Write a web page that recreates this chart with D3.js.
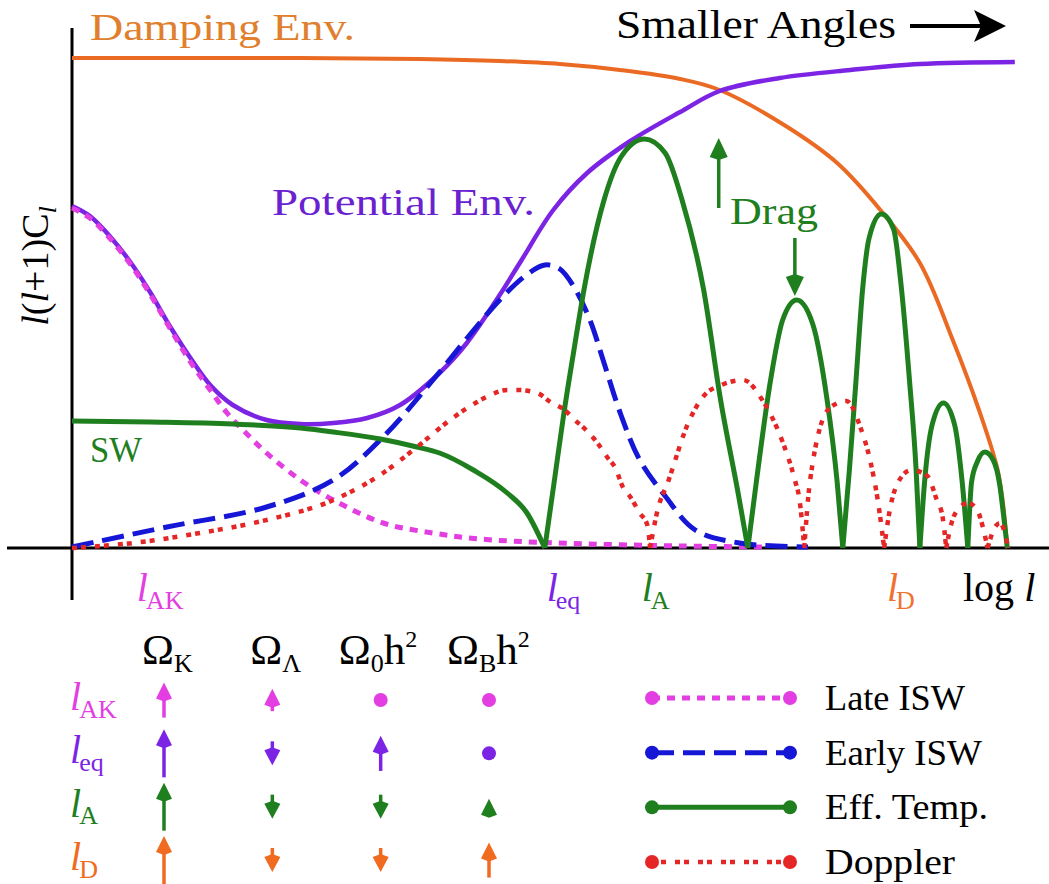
<!DOCTYPE html>
<html>

<head>
    <meta charset="utf-8">
    <script src="https://cdn.jsdelivr.net/npm/d3@7"></script>
    <style>
        body { margin: 0; background: #fff; }
        svg text { font-family: "Liberation Serif", "DejaVu Serif", serif; }
    </style>
</head>

<body>
    <svg class="MainSvg"></svg>
</body>
<script>
    // curves, x = log l (0..100), y = l(l+1)C_l (0..100)
    var dampingEnv = [[0, 98], [24.3, 98], [37.0, 97.8], [45.5, 97.4], [51.9, 96.8], [58.3, 95.6], [64.7, 93.8],
        [68.9, 91.6], [76.1, 84.2], [81.4, 77], [86.0, 67.6], [90.2, 57], [93.7, 41.6], [96.6, 27],
        [98.4, 16.2], [99.0, 9.6], [99.5, 0]];
    var potentialEnv = [[0, 68.4], [1.9, 66.4], [4.0, 62.4], [6.2, 57.2], [8.3, 51.2], [10.4, 44.4], [12.6, 38],
        [14.7, 32.6], [17.1, 28.6], [20.7, 25.6], [24.3, 24.8], [27.8, 25], [31.4, 26], [34.9, 28.6],
        [39.1, 35], [42.0, 41], [45.5, 50.6], [47.7, 57.2], [51.2, 67.6], [54.8, 75], [59.4, 81.4],
        [64.7, 87.2], [68.9, 91.4], [75.3, 94], [82.8, 95.6], [90.2, 96.8], [100.3, 97.2]];
    var lateISW = [[0, 68], [1.9, 66], [4.0, 62], [6.2, 56.8], [8.3, 50.8], [10.4, 44], [12.6, 37.2],
        [14.7, 31.6], [16.5, 27], [18.4, 23.2], [20.7, 19], [24.3, 13.6], [27.8, 9.6], [33.1, 5],
        [38.4, 3], [43.4, 1.8], [51.6, 1], [64.7, 0.4], [73.9, 0.2]];
    var earlyISW = [[0, 0.2], [10.1, 4.2], [20.7, 8.2], [27.8, 13.6], [33.1, 22.2], [38.4, 33.6], [42.3, 42.6],
        [45.5, 49.6], [48.2, 54.4], [50.3, 56.6], [51.9, 55.8], [53.4, 52.2], [55.1, 45.6], [56.5, 37.6],
        [58.4, 26.6], [60.4, 17.6], [63.1, 10.4], [66.3, 3.6], [71.0, 1], [78.3, 0.2]];
    var effTemp = [[0, 25.4], [8.3, 25.2], [17.1, 24.8], [24.3, 24], [27.8, 23.2], [32.8, 21.8], [36.7, 20.2],
        [39.1, 19], [42.7, 15.6], [46.3, 11], [48.4, 7], [50.3, 0],
        [51.4, 14.6], [52.3, 26.6], [53.4, 39.6], [54.5, 52], [56.6, 69.6], [58.4, 78.2], [60.9, 81.8],
        [63.1, 79], [64.9, 69.6], [67.2, 51.6], [69.0, 29.6], [70.9, 10.6], [71.9, 0],
        [72.8, 13.2], [74.3, 33.4], [75.6, 45.6], [77.1, 49.6], [78.8, 44.8], [80.3, 30], [81.4, 13.2], [82.0, 0],
        [82.7, 15.6], [83.4, 33.4], [84.1, 51.6], [84.8, 62], [86.1, 66.8], [87.4, 63.8], [88.2, 52.6],
        [89.1, 33.4], [89.8, 15.6], [90.2, 0],
        [90.7, 13.2], [91.5, 24.6], [92.7, 29], [93.9, 24.6], [94.7, 13.2], [95.3, 0],
        [95.7, 13.2], [96.3, 17.2], [97.1, 19.2], [98.0, 17.6], [98.7, 12.6], [99.1, 6.6], [99.5, 0]];
    var doppler = [[0, 0], [6.5, 1], [13.6, 3], [20.7, 5.6], [27.8, 9.6], [33.1, 15], [36.7, 20.2], [40.5, 26],
        [43.1, 29.2], [44.5, 30.6], [46.3, 31.6], [47.4, 31.6], [49.5, 31], [50.9, 29.2], [52.4, 27.6],
        [53.5, 25.6], [54.9, 23.2], [55.9, 21], [57.0, 18], [57.8, 16], [58.6, 12.2], [59.4, 10.2],
        [60.4, 7], [61.2, 4.6], [61.5, 0],
        [62.3, 7.6], [63.4, 13.2], [65.6, 25.2], [67.3, 30.6], [69.1, 32.6], [71.4, 33.6], [73.5, 29.4],
        [75.6, 21.2], [76.9, 13.6], [77.4, 9.6], [77.9, 0],
        [78.5, 13.2], [80.6, 28], [82.4, 29.4], [83.9, 24], [84.9, 17.6], [85.7, 9.8], [86.4, 0],
        [87.0, 7.6], [87.9, 13.2], [89.3, 15.6], [91.0, 14.4], [92.0, 9.6], [92.6, 6.4], [93.0, 0],
        [93.6, 5.2], [94.5, 8.2], [95.3, 9], [96.3, 7.6], [96.9, 4.2], [97.4, 0],
        [98.2, 4.2], [98.7, 5], [99.3, 2.6], [99.6, 0]];

    // scale markers on the log l axis
    var scaleMarks = [
        { sub: "AK", at: 6.9, key: "late" },
        { sub: "eq", at: 50.5, key: "pot" },
        { sub: "A", at: 60.6, key: "eff" },
        { sub: "D", at: 86.7, key: "damp" }
    ];

    // parameter dependence table: +up / -down / 0 no change (magnitude = arrow size)
    var tableRows = ["AK", "eq", "A", "D"];
    var tableCols = ["K", "Λ", "0", "B"];
    var tableEffects = [
        [2, 1, 0, 0],
        [3, -1, 2, 0],
        [3, -1, -1, 0.5],
        [3, -1, -1, 2]
    ];

    var legendNames = ["Late ISW", "Early ISW", "Eff. Temp.", "Doppler"];

    var colors = {
        damp: "#ea6a24", pot: "#7c24e4", late: "#e23ee2", early: "#1616d6",
        eff: "#1f7f1f", dop: "#e42626", rowD: "#f06a20", black: "#000"
    };
    var styles = {
        late: { color: colors.late, width: 5, dash: "8,7" },
        early: { color: colors.early, width: 5, dash: "22,9" },
        eff: { color: colors.eff, width: 5, dash: null },
        dop: { color: colors.dop, width: 4.5, dash: "5,4,5,9" }
    };

    var width = 1049, height = 884;
    var x = d3.scaleLinear().domain([0, 100]).range([72, 1012]);
    var y = d3.scaleLinear().domain([0, 100]).range([548, 48]);

    var svg = d3.select(".MainSvg")
        .attr("width", width)
        .attr("height", height);
    svg.append("rect").attr("width", width).attr("height", height).attr("fill", "#fff");

    var line = d3.line()
        .x(function (d) { return x(d[0]); })
        .y(function (d) { return y(d[1]); })
        .curve(d3.curveMonotoneX);
    var smoothLine = d3.line()
        .x(function (d) { return x(d[0]); })
        .y(function (d) { return y(d[1]); })
        .curve(d3.curveCatmullRom.alpha(0.5));

    // |oscillation| curves have cusps at zero, cut them there
    function splitAtZeros(pts) {
        var segs = [], cur = [];
        pts.forEach(function (p, i) {
            cur.push(p);
            if (p[1] === 0 && i > 0 && i < pts.length - 1 && cur.length > 1) {
                segs.push(cur);
                cur = [p];
            }
        });
        if (cur.length > 1) segs.push(cur);
        return segs;
    }

    // axes
    svg.append("line").attr("x1", 7).attr("x2", width).attr("y1", y(0)).attr("y2", y(0))
        .attr("stroke", "#000").attr("stroke-width", 3);
    svg.append("line").attr("x1", x(0)).attr("x2", x(0)).attr("y1", 28).attr("y2", 600)
        .attr("stroke", "#000").attr("stroke-width", 3);

    function drawCurve(pts, color, w, dash, split) {
        var segs = split ? splitAtZeros(pts) : [pts];
        svg.append("g").selectAll("path").data(segs).enter().append("path")
            .attr("d", split ? line : smoothLine)
            .attr("fill", "none")
            .attr("stroke", color)
            .attr("stroke-width", w)
            .attr("stroke-dasharray", dash)
            .attr("stroke-linejoin", "round");
    }
    drawCurve(dampingEnv, colors.damp, 4, null, false);
    drawCurve(potentialEnv, colors.pot, 4.5, null, false);
    drawCurve(lateISW, styles.late.color, styles.late.width, styles.late.dash, false);
    drawCurve(earlyISW, styles.early.color, styles.early.width, styles.early.dash, false);
    drawCurve(effTemp, styles.eff.color, styles.eff.width, null, true);
    drawCurve(doppler, styles.dop.color, styles.dop.width, styles.dop.dash, true);

    function arrow(g, ax, yTail, yTip, color, sw, headW, headL) {
        var dir = yTip < yTail ? -1 : 1;
        var base = yTip - dir * headL;
        if (Math.abs(base - yTail) > 0.5 && (base - yTail) * dir > 0) {
            g.append("line").attr("x1", ax).attr("x2", ax).attr("y1", yTail).attr("y2", base)
                .attr("stroke", color).attr("stroke-width", sw);
        }
        g.append("path")
            .attr("d", "M" + ax + "," + yTip + "L" + (ax - headW / 2) + "," + (base + dir * 1) +
                "L" + ax + "," + (base - dir * 2) + "L" + (ax + headW / 2) + "," + (base + dir * 1) + "Z")
            .attr("fill", color);
    }

    // text helper: italic l with subscript
    function lSub(g, px, py, sub, color, size, subSize) {
        var t = g.append("text").attr("x", px).attr("y", py).attr("fill", color)
            .attr("font-size", size);
        t.append("tspan").attr("font-style", "italic").text("l");
        t.append("tspan").attr("font-size", subSize).attr("dy", subSize * 0.3).attr("dx", -2).text(sub);
        return t;
    }

    // titles / annotations
    svg.append("text").attr("x", 90).attr("y", 40).attr("font-size", 38).attr("fill", "#e0802e")
        .attr("textLength", 265).attr("lengthAdjust", "spacingAndGlyphs").text("Damping Env.");
    svg.append("text").attr("x", 616).attr("y", 38).attr("font-size", 40).attr("fill", "#000")
        .attr("textLength", 280).attr("lengthAdjust", "spacingAndGlyphs").text("Smaller Angles");
    svg.append("line").attr("x1", 910).attr("x2", 985).attr("y1", 26).attr("y2", 26)
        .attr("stroke", "#000").attr("stroke-width", 4);
    svg.append("path").attr("d", "M1006,26L974,10L981,26L974,42Z").attr("fill", "#000");
    svg.append("text").attr("x", 272).attr("y", 215).attr("font-size", 38).attr("fill", "#6a22d0")
        .attr("textLength", 263).attr("lengthAdjust", "spacingAndGlyphs").text("Potential Env.");
    svg.append("text").attr("x", 90).attr("y", 462).attr("font-size", 36).attr("fill", colors.eff)
        .attr("textLength", 52).attr("lengthAdjust", "spacingAndGlyphs").text("SW");
    svg.append("text").attr("x", 730).attr("y", 224).attr("font-size", 38).attr("fill", colors.eff)
        .attr("textLength", 88).attr("lengthAdjust", "spacingAndGlyphs").text("Drag");
    arrow(svg, x(68.8), y(68), y(82), colors.eff, 3.5, 18, 20);
    arrow(svg, x(76.9), y(62), y(50.4), colors.eff, 3.5, 18, 20);

    // y label
    var yl = svg.append("text").attr("transform", "translate(48,266) rotate(-90)")
        .attr("text-anchor", "middle").attr("font-size", 38).attr("fill", "#000");
    yl.append("tspan").attr("font-style", "italic").text("l");
    yl.append("tspan").text("(");
    yl.append("tspan").attr("font-style", "italic").text("l");
    yl.append("tspan").text("+1)C");
    yl.append("tspan").attr("font-style", "italic").attr("font-size", 26).attr("dy", 8).text("l");

    // x labels
    scaleMarks.forEach(function (m) {
        lSub(svg, x(m.at), 601, m.sub, m.key === "damp" ? "#f07030" : colors[m.key], 40, 26);
    });
    var logl = svg.append("text").attr("x", 963).attr("y", 601).attr("font-size", 40).attr("fill", "#000");
    logl.append("tspan").text("log ");
    logl.append("tspan").attr("font-style", "italic").text("l");

    // table
    var colX = d3.scalePoint().domain(tableCols).range([164, 489]);
    var rowY = d3.scalePoint().domain(tableRows).range([700, 860]);
    var rowColors = [colors.late, colors.pot, colors.eff, colors.rowD];
    var arrowLen = d3.scaleLinear().domain([0.5, 3]).range([16, 48]);
    var table = svg.append("g");

    tableCols.forEach(function (c, j) {
        var hasH = j >= 2;
        var t = table.append("text").attr("x", colX(c) + (hasH ? -42 : -22)).attr("y", 664)
            .attr("font-size", 43).attr("fill", "#000");
        t.append("tspan").text("Ω");
        t.append("tspan").attr("font-size", 26).attr("dy", 8).text(c);
        if (hasH) {
            t.append("tspan").attr("dy", -8).text("h");
            t.append("tspan").attr("font-size", 24).attr("dy", -17).text("2");
        }
    });

    tableRows.forEach(function (r, i) {
        var cy = rowY(r), col = rowColors[i];
        lSub(table, 70, cy + 10, r, col, 40, 26);
        tableEffects[i].forEach(function (v, j) {
            var cx = colX(tableCols[j]);
            if (v === 0) {
                table.append("circle").attr("cx", cx).attr("cy", cy).attr("r", 7).attr("fill", col);
            } else if (v > 0) {
                var L = arrowLen(v);
                arrow(table, cx, cy + L / 2, cy - L / 2, col, 3.5, 16, 17);
            } else {
                arrow(table, cx, cy - 12, cy + 12, col, 3.5, 16, 16);
            }
        });
    });

    // legend
    var legend = svg.append("g");
    var legendKeys = ["late", "early", "eff", "dop"];
    var legendY = d3.scalePoint().domain(legendKeys).range([698, 862]);
    var legendLen = [140, 157, 163, 130];
    legendKeys.forEach(function (k, i) {
        var s = styles[k], ly = legendY(k);
        legend.append("line").attr("x1", 652).attr("x2", 790).attr("y1", ly).attr("y2", ly)
            .attr("stroke", s.color).attr("stroke-width", s.width).attr("stroke-dasharray", s.dash);
        legend.selectAll(null).data([652, 790]).enter().append("circle")
            .attr("cx", function (d) { return d; }).attr("cy", ly).attr("r", 7).attr("fill", s.color);
        legend.append("text").attr("x", 825).attr("y", ly + 12).attr("font-size", 35).attr("fill", "#000")
            .attr("textLength", legendLen[i]).attr("lengthAdjust", "spacingAndGlyphs").text(legendNames[i]);
    });
</script>

</html>
